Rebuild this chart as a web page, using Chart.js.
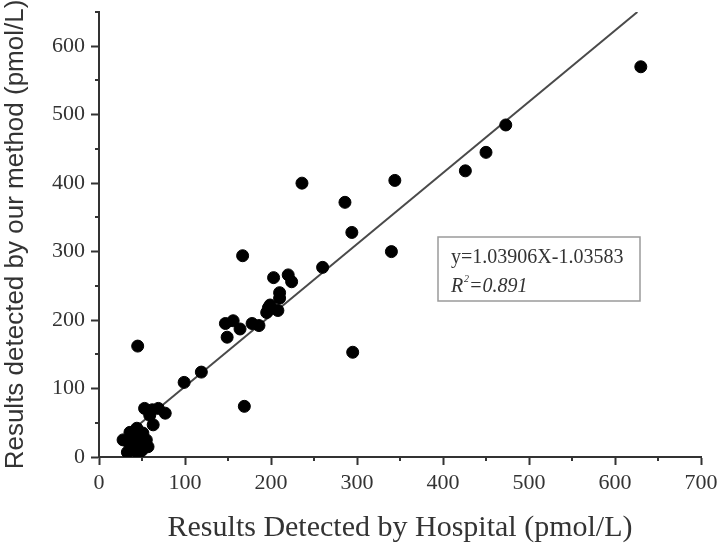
<!DOCTYPE html>
<html><head><meta charset="utf-8">
<script src="https://cdn.jsdelivr.net/npm/chart.js@4/dist/chart.umd.min.js"></script>
<style>html,body{margin:0;padding:0;background:#fff}#wrap{width:720px;height:546px}</style>
</head><body><div id="wrap"><canvas id="c" width="720" height="546"></canvas></div>
<script>
// Hospital (x) vs our method (y), pmol/L
const hospitalX = [630,473,450,426,344,236,286,340,294,295,167,260,203,220,224,210,210,197,208,199,195,149,147,156,164,178,186,45,99,119,169,
  53,62,69,77,63,59,
  28,36,44,51,57,33,40,48,38,50,42,46,55,35];
const methodY = [570,485,445,418,404,400,372,300,328,153,294,277,262,266,256,240,232,218,214,222,211,175,195,199,187,195,192,162,109,124,74,
  71,69,71,64,47,61,
  25,36,42,35,15,7,10,20,17,10,30,5,25,20];
const fitX = [28, 626];
const fitY = [28, 650];
const xMinorTicks = [50,150,250,350,450,550,650];
const yMinorTicks = [50,150,250,350,450,550,650];
const eqText = 'y=1.03906X-1.03583';
const r2Text = '=0.891';
const xTitle = 'Results Detected by Hospital (pmol/L)';
const yTitle = 'Results detected by our method (pmol/L)';

const pts = hospitalX.map((x,i)=>({x, y: methodY[i]}));
const fitPts = fitX.map((x,i)=>({x, y: fitY[i]}));

const minorPlugin = {
  id:'minor',
  afterDraw(chart){
    const ctx = chart.ctx, xs = chart.scales.x, ys = chart.scales.y;
    ctx.save();
    ctx.strokeStyle = '#333'; ctx.lineWidth = 2;
    ctx.beginPath();
    xMinorTicks.forEach(v=>{const p = Math.round(xs.getPixelForValue(v)); ctx.moveTo(p, xs.top); ctx.lineTo(p, xs.top+4);});
    yMinorTicks.forEach(v=>{const p = Math.round(ys.getPixelForValue(v)); ctx.moveTo(ys.right, p); ctx.lineTo(ys.right-4, p);});
    ctx.stroke();
    ctx.restore();
  }
};

const boxPlugin = {
  id:'eqbox',
  afterDraw(chart){
    const ctx = chart.ctx;
    ctx.save();
    ctx.strokeStyle = '#9a9a9a'; ctx.lineWidth = 1.5;
    ctx.strokeRect(438, 237, 202, 64);
    ctx.fillStyle = '#333';
    ctx.font = '20px "Liberation Serif", serif';
    ctx.textBaseline = 'alphabetic';
    ctx.fillText(eqText, 451, 263);
    ctx.font = 'italic 20px "Liberation Serif", serif';
    ctx.fillText('R', 451, 292);
    ctx.font = 'italic 10px "Liberation Serif", serif';
    ctx.fillText('2', 464, 282);
    ctx.font = 'italic 20px "Liberation Serif", serif';
    ctx.fillText(r2Text, 469, 292);
    ctx.restore();
  }
};

new Chart(document.getElementById('c'), {
  type:'scatter',
  data:{datasets:[
    {data: pts, backgroundColor:'#000', borderColor:'#000', pointRadius:6, pointHoverRadius:6, order:1},
    {type:'line', data: fitPts, borderColor:'#4a4a4a', borderWidth:2, pointRadius:0, fill:false, order:2}
  ]},
  options:{
    responsive:false, animation:false,
    layout:{padding:{top:12,right:19,left:0,bottom:0}},
    plugins:{legend:{display:false}, tooltip:{enabled:false}},
    scales:{
      x:{type:'linear', min:0, max:700,
        afterFit(s){s.height=89; s.paddingLeft=0; s.paddingRight=0;},
        border:{color:'#333', width:2},
        grid:{drawOnChartArea:false, tickLength:8, tickColor:'#333', tickWidth:2},
        ticks:{stepSize:100, autoSkip:false, maxRotation:0, color:'#333', padding:5,
          font:{family:'"Liberation Serif", serif', size:22}},
        title:{display:true, text:xTitle, color:'#333', padding:{top:0,bottom:0},
          font:{family:'"Liberation Serif", serif', size:30}}
      },
      y:{type:'linear', min:0, max:650,
        afterBuildTicks(s){s.ticks = s.ticks.filter(t=>t.value<=600);},
        afterFit(s){s.width=99; s.paddingTop=0; s.paddingBottom=0;},
        border:{color:'#333', width:2},
        grid:{drawOnChartArea:false, tickLength:8, tickColor:'#333', tickWidth:2},
        ticks:{stepSize:100, autoSkip:false, color:'#333', padding:6,
          font:{family:'"Liberation Serif", serif', size:22}},
        title:{display:true, text:yTitle, color:'#333', padding:{top:0,bottom:0},
          font:{family:'"Liberation Sans", Arial, sans-serif', size:26}}
      }
    }
  },
  plugins:[minorPlugin, boxPlugin]
});
</script></body></html>
